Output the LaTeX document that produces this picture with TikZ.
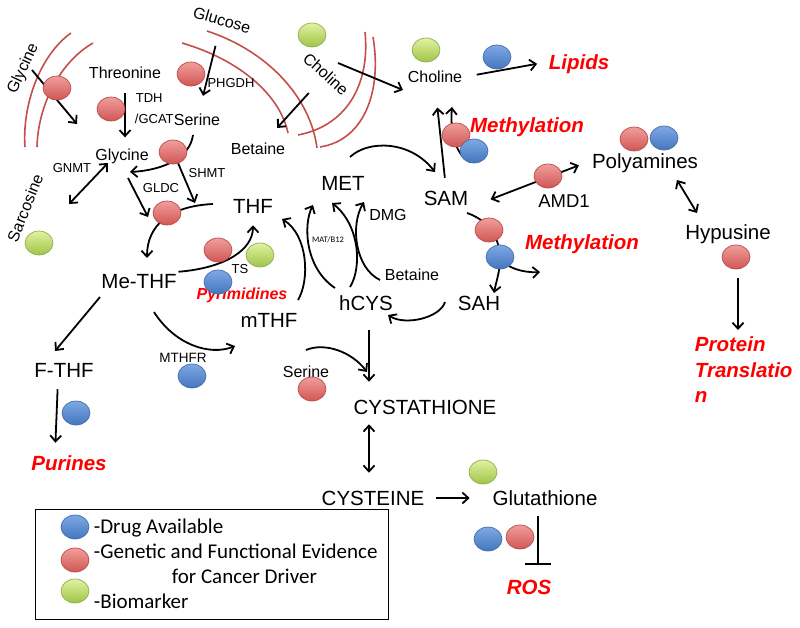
\documentclass[tikz,border=0pt]{standalone}
\usepackage{fontspec}
\setmainfont{Liberation Sans}
\newfontfamily\calfont{Carlito}
\usetikzlibrary{arrows.meta,shapes.geometric}

\definecolor{ballred}{RGB}{208,86,84}
\definecolor{ballredlt}{RGB}{240,158,155}
\definecolor{ballredrim}{RGB}{185,75,72}
\definecolor{ballblue}{RGB}{68,118,190}
\definecolor{ballbluelt}{RGB}{125,168,228}
\definecolor{ballbluerim}{RGB}{70,110,170}
\definecolor{ballgreen}{RGB}{158,196,72}
\definecolor{ballgreenlt}{RGB}{225,242,160}
\definecolor{ballgreenrim}{RGB}{140,175,80}
\definecolor{memred}{RGB}{196,78,76}

\begin{document}
\begin{tikzpicture}[x=1pt, y=-1pt, line width=1.8pt, >={Straight Barb[length=6pt,width=11pt]}]
\tikzset{
  txt/.style={inner sep=1pt, text depth=0pt},
  bigtxt/.style={txt, font=\fontsize{20.5}{24}\selectfont, text height=14.7pt},
  midtxt/.style={txt, font=\fontsize{16}{19}\selectfont, text height=11.5pt},
  smltxt/.style={txt, font=\fontsize{13}{15}\selectfont, text height=9.3pt},
  outfont/.style={font=\fontsize{20.5}{25.5}\selectfont\bfseries\itshape, text=red},
  outtxt/.style={txt, outfont, text height=14.7pt},
  outsml/.style={txt, font=\fontsize{16}{19}\selectfont\bfseries\itshape, text=red, text height=11.5pt},
  legtxt/.style={txt, anchor=west, font=\calfont\fontsize{21}{25}\selectfont, text height=13.5pt},
  ball/.style={ellipse, minimum width=28pt, minimum height=24pt, inner sep=0pt, line width=0.7pt},
  rball/.style={ball, draw=ballredrim, top color=ballredlt, bottom color=ballred},
  bball/.style={ball, draw=ballbluerim, top color=ballbluelt, bottom color=ballblue},
  gball/.style={ball, draw=ballgreenrim, top color=ballgreenlt, bottom color=ballgreen},
  membrane/.style={draw=memred, line width=1.6pt}
}
\useasboundingbox (0,0) rectangle (800,627);

% membranes
\draw[membrane] (71,33) .. controls (40,55) and (22,105) .. (25,147);
\draw[membrane] (93,43) .. controls (60,62) and (38,105) .. (37,147);
\draw[membrane] (182,43) .. controls (240,60) and (280,95) .. (288,133);
\draw[membrane] (207,31) .. controls (265,50) and (310,95) .. (317,148);
\draw[membrane] (365,32) .. controls (370,80) and (350,125) .. (298,135);
\draw[membrane] (373,37) .. controls (382,90) and (365,140) .. (320,147);

\node[midtxt, rotate=65]  (glyr)  at (22,68)   {Glycine};
\node[midtxt]             (thr)   at (125,73)  {Threonine};
\node[midtxt, rotate=-16] (glc)   at (222,20)  {Glucose};
\node[smltxt]             (phgdh) at (231,83)  {PHGDH};
\node[smltxt, anchor=west] (tdh)  at (134,98)  {TDH};
\node[smltxt, anchor=west] (gcat) at (133,119) {/GCAT};
\node[midtxt]             (ser)   at (197,120) {Serine};
\node[midtxt]             (gly)   at (122,155) {Glycine};
\node[midtxt]             (betu)  at (258,149) {Betaine};
\node[smltxt]             (gnmt)  at (72,168)  {GNMT};
\node[smltxt]             (shmt)  at (207,173) {SHMT};
\node[smltxt]             (gldc)  at (161,188) {GLDC};
\node[midtxt, rotate=68]  (sar)   at (25,208)  {Sarcosine};
\node[bigtxt]             (thf)   at (253,206) {THF};
\node[bigtxt]             (met)   at (343,183) {MET};
\node[bigtxt]             (sam)   at (446,198) {SAM};
\node[midtxt]             (dmg)   at (388,215) {DMG};
\node[txt, font=\calfont\fontsize{8.5}{10}\selectfont] (mat) at (328,240) {MAT/B12};
\node[midtxt]             (betl)  at (412,275) {Betaine};
\node[bigtxt]             (hcys)  at (366,303) {hCYS};
\node[bigtxt]             (sah)   at (479,303) {SAH};
\node[bigtxt]             (mthf)  at (269,320) {mTHF};
\node[smltxt]             (ts)    at (240,269) {TS};
\node[outsml]             (pyr)   at (242,294) {Pyrimidines};
\node[bigtxt]             (methf) at (139,281) {Me-THF};
\node[bigtxt]             (fthf)  at (64,370)  {F-THF};
\node[smltxt, font=\fontsize{13.5}{16}\selectfont] (mthfr) at (183,358) {MTHFR};
\node[midtxt]             (serl)  at (306,372) {Serine};
\node[bigtxt]             (cysth) at (425,407) {CYSTATHIONE};
\node[bigtxt]             (cyst)  at (373,498) {CYSTEINE};
\node[bigtxt]             (glu)   at (545,498) {Glutathione};
\node[outtxt]             (ros)   at (529,587) {ROS};
\node[outtxt]             (pur)   at (69,463)  {Purines};
\node[midtxt, rotate=-42] (chr)   at (326,74)  {Choline};
\node[midtxt]             (cho)   at (435,77)  {Choline};
\node[outtxt]             (lip)   at (579,62)  {Lipids};
\node[outtxt]             (methu) at (527,125) {Methylation};
\node[bigtxt]             (poly)  at (645,161) {Polyamines};
\node[midtxt, font=\fontsize{18.5}{22}\selectfont] (amd) at (564,202) {AMD1};
\node[outtxt]             (methl) at (582,242) {Methylation};
\node[bigtxt]             (hyp)   at (728,232) {Hypusine};
\node[outfont, align=left, anchor=north west, inner sep=0pt] (prot) at (694,336) {Protein\\Translatio\\n};

% free ends of the connectors
\coordinate (ga) at (32,70);    \coordinate (gb) at (77,124);
\coordinate (chra) at (338,63); \coordinate (chob) at (403,90);
\coordinate (ma) at (470,162);  \coordinate (mb) at (452,107);
\coordinate (mea) at (350,157); \coordinate (mes) at (435,172);
\coordinate (sa) at (467,213);  \coordinate (sj) at (500,258);
\coordinate (sahn) at (494,293); \coordinate (mc) at (540,272);
\coordinate (sho) at (445,302); \coordinate (hci) at (388,315);
\coordinate (ta) at (298,300);  \coordinate (tb) at (282,219);
\coordinate (hb1) at (335,288); \coordinate (hb2) at (313,205);
\coordinate (hc1) at (350,287); \coordinate (hc2) at (332,203);
\coordinate (hd1) at (380,280); \coordinate (hd2) at (364,202);
\coordinate (sg1) at (193,135); \coordinate (sg2) at (130,172);
\coordinate (sh1) at (178,163); \coordinate (sh2) at (195,203);
\coordinate (tm1) at (213,204); \coordinate (tm2) at (147,258);
\coordinate (gl1) at (128,178); \coordinate (gl2) at (148,217);
\coordinate (gn1) at (108,163); \coordinate (gn2) at (69,204);
\coordinate (mf1) at (154,312); \coordinate (mf2) at (235,346);
\coordinate (mt1) at (100,297); \coordinate (mt2) at (55,351);
\coordinate (sc1) at (306,350); \coordinate (sc2) at (367,372);
\coordinate (ph1) at (677,180); \coordinate (ph2) at (697,213);

\draw[->] (ga) -- (gb);
\draw[->, shorten <=12pt, shorten >=10pt] (thr.south) -- (thr.south |- gly.north);
\draw[->, shorten <=19pt, shorten >=17pt] (glc) -- (ser);
\draw[->, shorten <=18pt, shorten >=18pt] (chr) -- (betu);
\draw[->] (chra) -- (chob);
\draw[->, shorten <=13pt, shorten >=10pt] (cho.east) -- (lip.west);
\draw[->, shorten <=11pt, shorten >=23pt] (sam.north) -- (cho.south);
\draw[->] (ma) .. controls (455,155) and (450,130) .. (mb);
\draw[<->, shorten <=22pt, shorten >=12pt] (sam.south east) -- (poly.west);
\draw[->] (mea) .. controls (368,140) and (410,140) .. (mes);
\draw[->] (sa) .. controls (488,220) and (500,238) .. (sj) .. controls (500,272) and (496,282) .. (sahn);
\draw[->] (sj) .. controls (506,268) and (524,273) .. (mc);
\draw[->] (sho) .. controls (440,318) and (405,326) .. (hci);
\draw[->] (ta) .. controls (310,280) and (308,235) .. (tb);
\draw[->] (hb1) .. controls (305,268) and (303,225) .. (hb2);
\draw[->] (hc1) .. controls (362,268) and (360,225) .. (hc2);
\draw[->] (hd1) .. controls (355,268) and (350,225) .. (hd2);
\draw[->] (sg1) .. controls (190,157) and (165,170) .. (sg2);
\draw[->] (sh1) -- (sh2);
\draw[->] (tm1) .. controls (170,206) and (147,225) .. (tm2);
\draw[->] (gl1) -- (gl2);
\draw[<->] (gn1) -- (gn2);
\draw[->, shorten >=10pt] (methf.north east) .. controls (225,268) and (253,250) .. (thf.south);
\draw[->] (mf1) .. controls (175,345) and (210,356) .. (mf2);
\draw[->] (mt1) -- (mt2);
\draw[->, shorten <=10pt, shorten >=11pt] ([xshift=-6pt]fthf.south) -- ([xshift=-14pt]pur.north);
\draw[->] (sc1) .. controls (325,342) and (352,352) .. (sc2);
\draw[->, shorten <=18pt, shorten >=16pt] ([xshift=3pt]hcys.south) -- ([xshift=3pt]hcys.south |- cysth.north);
\draw[<->, shorten <=8pt, shorten >=16pt] ([xshift=-4pt]cyst.north |- cysth.south) -- ([xshift=-4pt]cyst.north);
\draw[->, shorten <=10pt, shorten >=21pt] (cyst.east) -- (glu.west);
\draw[-{Bar[width=26pt]}, shorten <=9pt, shorten >=13pt] ([xshift=-7pt]glu.south) -- ([xshift=-7pt]glu.south |- ros.north);
\draw[<->] (ph1) -- (ph2);
\draw[->, shorten <=37pt, shorten >=6pt] ([xshift=10pt]hyp.south) -- ([xshift=10pt]hyp.south |- prot.north);

% markers
\foreach \n/\x/\y in {r1/57/88, r2/111/109, r3/191/74, r4/173/152, r5/167/213, r6/218/250,
  r7/456/135, r8/548/176, r9/489/230, r10/634/139, r11/736/257, r12/312/389, r13/520/537}
  \node[rball] (\n) at (\x,\y) {};
\foreach \n/\x/\y in {g1/39/243, g2/260/255, g3/312/35, g4/426/50, g5/483/472}
  \node[gball] (\n) at (\x,\y) {};
\foreach \n/\x/\y in {b1/218/282, b2/497/57, b3/474/151, b4/500/257, b5/664/138,
  b6/192/376, b7/76/413, b8/488/539}
  \node[bball] (\n) at (\x,\y) {};

% legend
\draw[line width=1pt] (35,509) rectangle (388,619);
\node[bball] (lb) at (75,527) {};
\node[rball] (lr) at (75,560) {};
\node[gball] (lg) at (75,591) {};
\node[legtxt] (ldrug) at (92,527) {-Drug Available};
\node[legtxt] (lgen)  at (92,552) {-Genetic and Functional Evidence};
\node[legtxt] (lcan)  at (170,577) {for Cancer Driver};
\node[legtxt] (lbio)  at (92,602) {-Biomarker};
\end{tikzpicture}
\end{document}
